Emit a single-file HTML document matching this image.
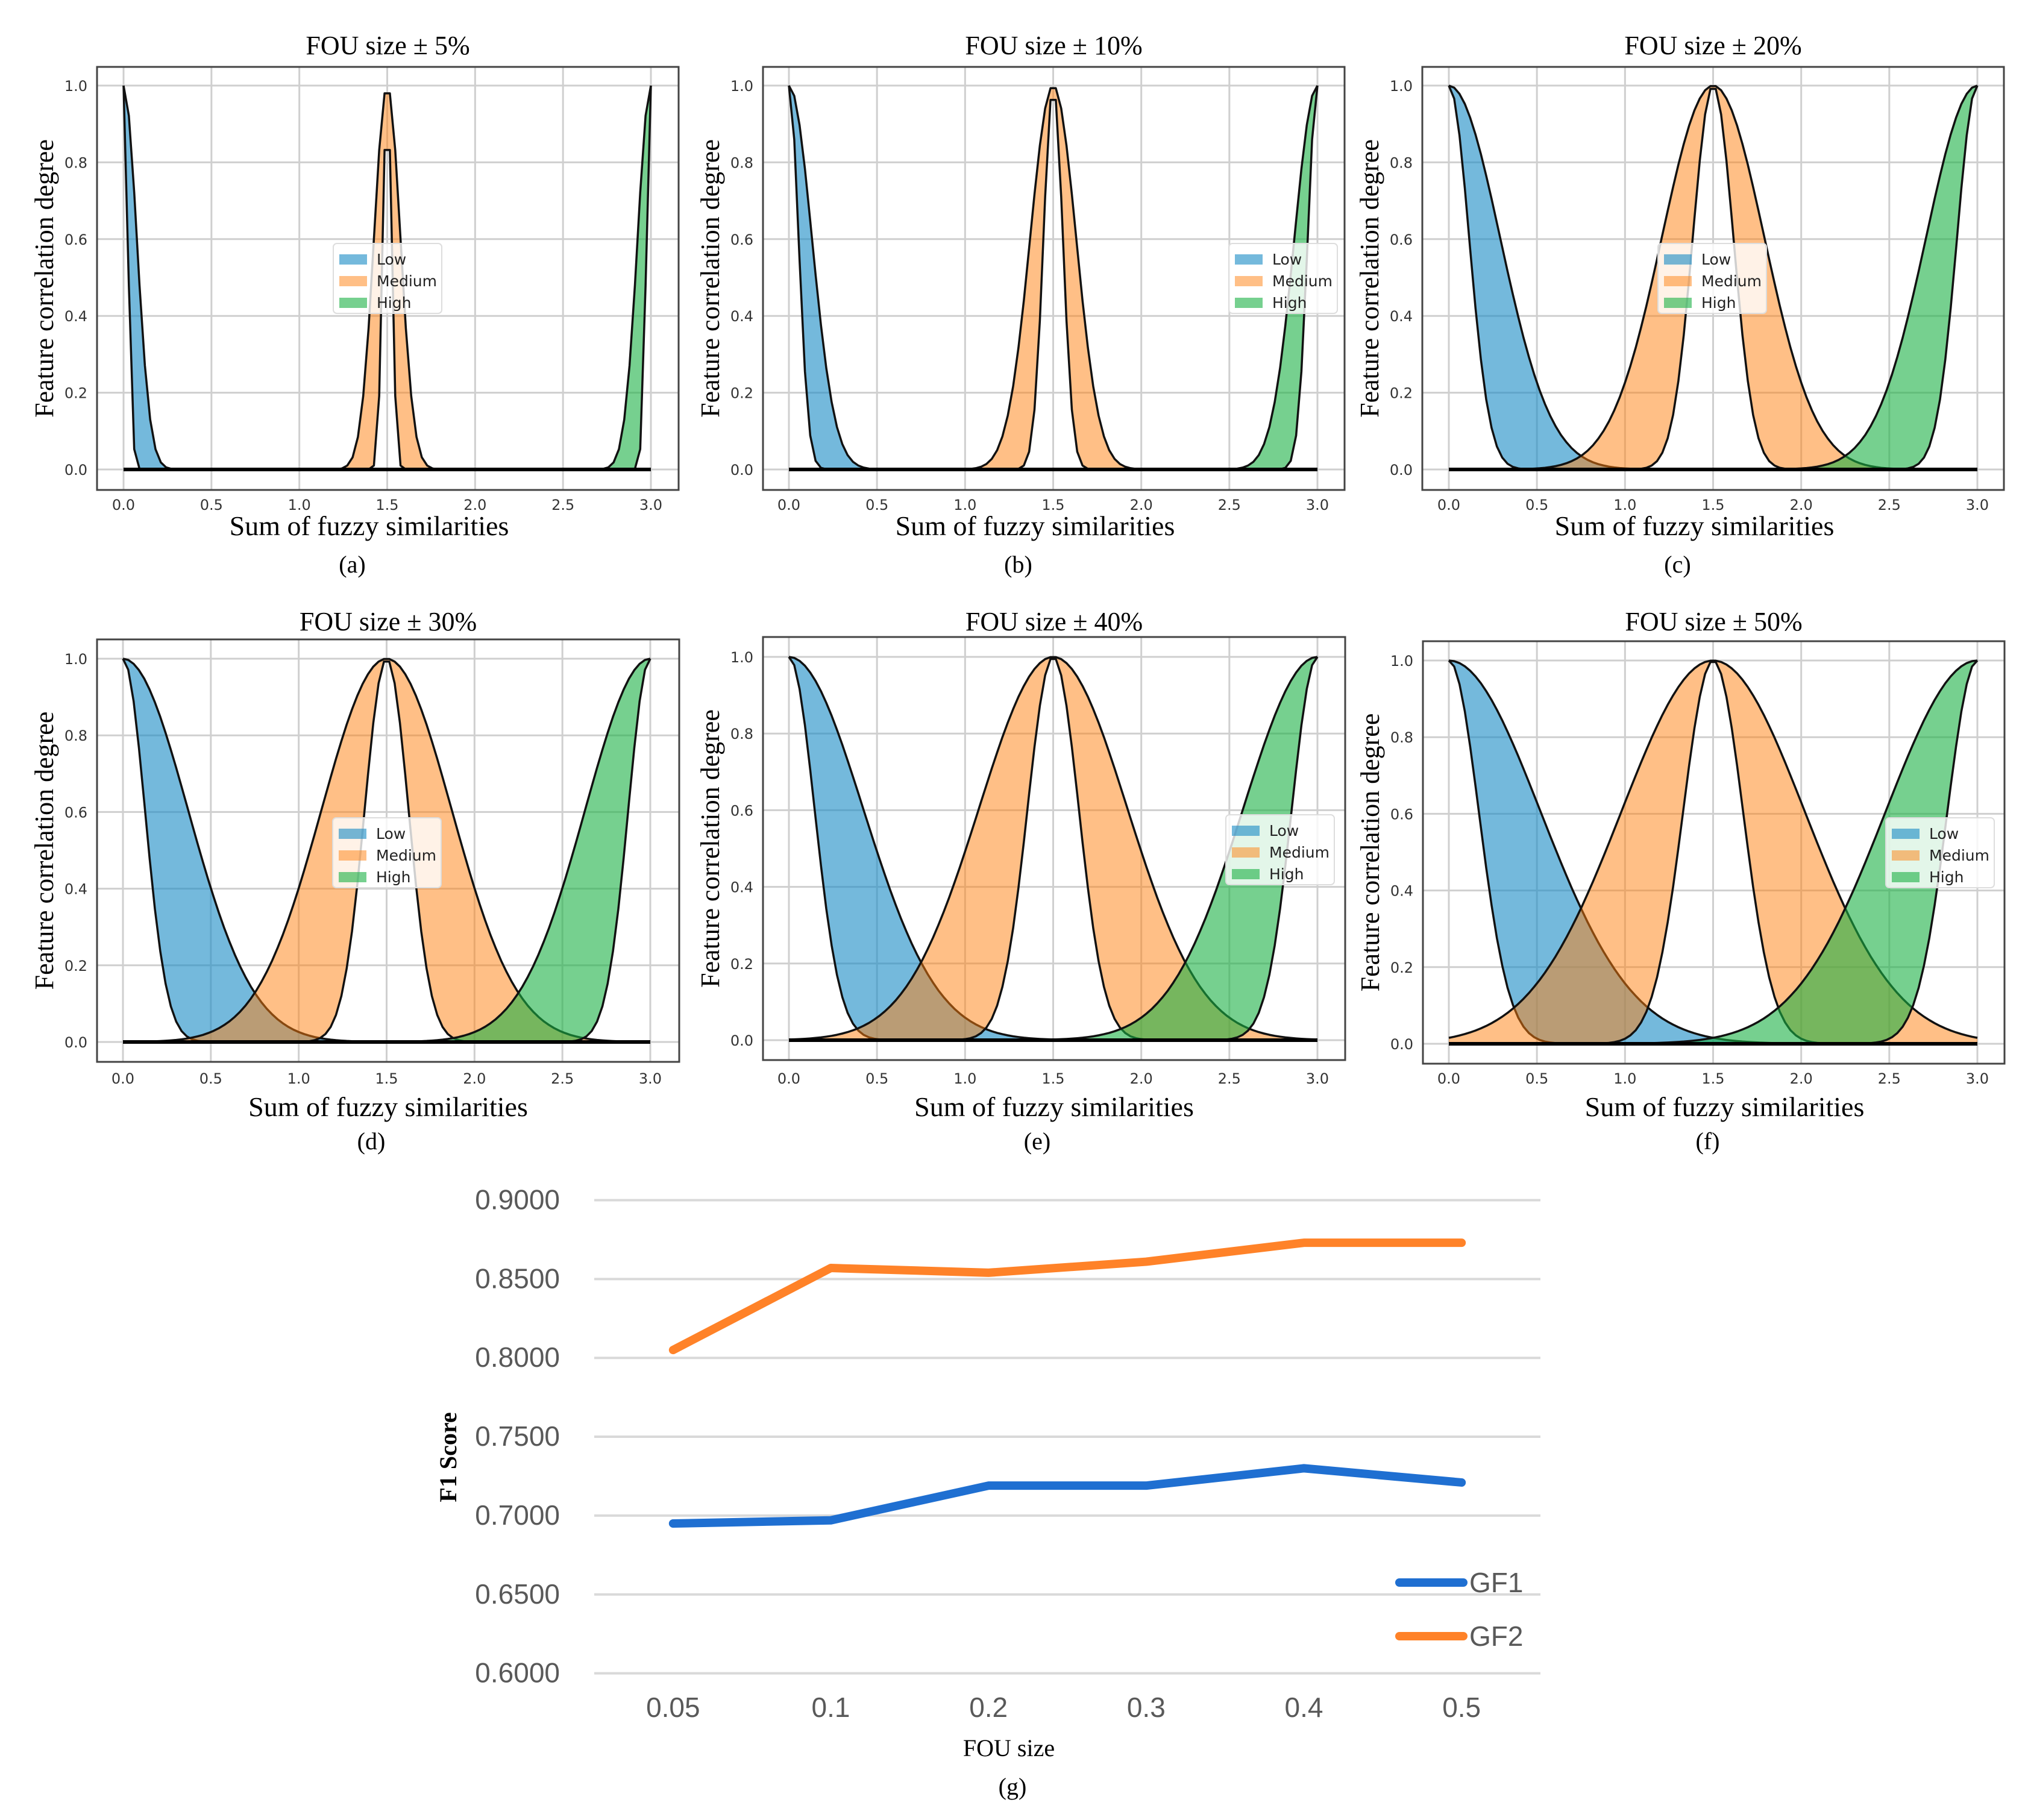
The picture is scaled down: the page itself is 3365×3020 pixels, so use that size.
<!DOCTYPE html>
<html><head><meta charset="utf-8"><style>
html,body{margin:0;padding:0;background:#fff;}
svg{display:block;}
</style></head><body>
<svg id="fig" width="3365" height="3020" viewBox="0 0 3365 3020" xmlns="http://www.w3.org/2000/svg"></svg>
<script>
// ---- panel data (a)-(f) ----
const fouTitles = ['FOU size \u00b1 5%','FOU size \u00b1 10%','FOU size \u00b1 20%','FOU size \u00b1 30%','FOU size \u00b1 40%','FOU size \u00b1 50%'];
const panelLetters = ['(a)','(b)','(c)','(d)','(e)','(f)'];
const sigmaUpper = [0.075,0.13,0.29,0.37,0.42,0.52];
const sigmaLower = [0.025,0.055,0.115,0.125,0.145,0.17];
const setNames = ['Low','Medium','High'];
const setCenters = [0,1.5,3];
const xTicks = [0,0.5,1.0,1.5,2.0,2.5,3.0];
const yTicks = [0,0.2,0.4,0.6,0.8,1.0];
// ---- chart (g) data ----
const fouCats = ['0.05','0.1','0.2','0.3','0.4','0.5'];
const gf1 = [0.6950,0.6970,0.7190,0.7190,0.7300,0.7210];
const gf2 = [0.8050,0.8570,0.8540,0.8610,0.8730,0.8730];
const f1Ticks = [0.60,0.65,0.70,0.75,0.80,0.85,0.90];

const NS='http://www.w3.org/2000/svg';
const svg=document.getElementById('fig');
function mk(tag,attrs,parent,text){const e=document.createElementNS(NS,tag);for(const k in attrs)e.setAttribute(k,attrs[k]);if(text!==undefined)e.textContent=text;(parent||svg).appendChild(e);return e;}

const fillCols=['#178ac5','#ff7f0e','#1bb144'];
const fillOp=[0.6,0.5,0.6];
const boxes=[
 {l:161,r:1126,t:111,b:813,x0:205,x3:1080,y1:142,y0:779,tickY:846,xlY:888,lbY:950,ttlY:90,xlDx:-31,lgX:392,lgY:293},
 {l:1266,r:2231,t:111,b:813,x0:1309,x3:2186,y1:142,y0:779,tickY:846,xlY:888,lbY:950,ttlY:90,xlDx:-31,lgX:773,lgY:293},
 {l:2360,r:3325,t:111,b:813,x0:2404,x3:3281,y1:142,y0:779,tickY:846,xlY:888,lbY:950,ttlY:90,xlDx:-31,lgX:391,lgY:293},
 {l:161,r:1127,t:1061,b:1762,x0:204,x3:1079,y1:1093,y0:1729,tickY:1798,xlY:1852,lbY:1907,ttlY:1046,xlDx:0,lgX:391,lgY:296},
 {l:1266,r:2232,t:1057,b:1759,x0:1309,x3:2186,y1:1090,y0:1726,tickY:1798,xlY:1852,lbY:1907,ttlY:1046,xlDx:0,lgX:768,lgY:295},
 {l:2361,r:3326,t:1064,b:1765,x0:2404,x3:3281,y1:1096,y0:1732,tickY:1798,xlY:1852,lbY:1907,ttlY:1046,xlDx:18,lgX:768,lgY:293}
];
const xs=[];for(let i=0;i<100;i++)xs.push(3*i/99);

boxes.forEach((B,p)=>{
  const g=mk('g',{});
  
  
  const X=v=>B.x0+(B.x3-B.x0)*v/3;
  const Y=v=>B.y0-(B.y0-B.y1)*v;
  xTicks.forEach(v=>{const l=mk('line',{x1:X(v),x2:X(v),y1:B.t,y2:B.b,stroke:'#cfcfcf','stroke-width':3},g);
    });
  yTicks.forEach(v=>{const l=mk('line',{x1:B.l,x2:B.r,y1:Y(v),y2:Y(v),stroke:'#cfcfcf','stroke-width':3},g);
    });
  setCenters.forEach((c,s)=>{
    const up=xs.map(x=>Math.exp(-((x-c)**2)/(2*sigmaUpper[p]**2)));
    const lo=xs.map(x=>Math.exp(-((x-c)**2)/(2*sigmaLower[p]**2)));
    let d='M'+xs.map((x,i)=>X(x).toFixed(1)+','+Y(up[i]).toFixed(1)).join('L');
    for(let i=xs.length-1;i>=0;i--)d+='L'+X(xs[i]).toFixed(1)+','+Y(lo[i]).toFixed(1);
    d+='Z';
    const f=mk('path',{d:d,fill:fillCols[s],'fill-opacity':fillOp[s],stroke:'none'},g);
    
    
    [up,lo].forEach((arr,k)=>{
      const pl=mk('polyline',{points:xs.map((x,i)=>X(x).toFixed(1)+','+Y(arr[i]).toFixed(1)).join(' '),fill:'none',stroke:'#111','stroke-width':3.5,'stroke-linejoin':'round'},g);
      
      
    });
  });
  const bl=mk('line',{x1:X(0),x2:X(3),y1:Y(0),y2:Y(0),stroke:'#000','stroke-width':6},g);
  
  const fr=mk('rect',{x:B.l,y:B.t,width:B.r-B.l,height:B.b-B.t,fill:'none',stroke:'#444','stroke-width':3},g);
  
  xTicks.forEach(v=>{const t=mk('text',{x:X(v),y:B.tickY,'text-anchor':'middle','font-family':'DejaVu Sans, sans-serif','font-size':24,fill:'#333'},g,v.toFixed(1));
    });
  yTicks.forEach(v=>{const t=mk('text',{x:B.l-16,y:Y(v)+9,'text-anchor':'end','font-family':'DejaVu Sans, sans-serif','font-size':24,fill:'#333'},g,v.toFixed(1));
    });
  const cx=(B.l+B.r)/2;
  const tt=mk('text',{x:cx,y:B.ttlY,'text-anchor':'middle','font-family':'Liberation Serif, serif','font-size':44,fill:'#000'},g,fouTitles[p]);
  
  const xl=mk('text',{x:cx+B.xlDx,y:B.xlY,'text-anchor':'middle','font-family':'Liberation Serif, serif','font-size':46,fill:'#000'},g,'Sum of fuzzy similarities');
  
  const lb=mk('text',{x:cx+B.xlDx-28,y:B.lbY,'text-anchor':'middle','font-family':'Liberation Serif, serif','font-size':40,fill:'#000'},g,panelLetters[p]);
  
  const ycy=(B.t+B.b)/2, ycx=B.l-73;
  const yl=mk('text',{x:ycx,y:ycy,'text-anchor':'middle','font-family':'Liberation Serif, serif','font-size':44,fill:'#000',transform:'rotate(-90 '+ycx+' '+ycy+')'},g,'Feature correlation degree');
  
  const lx=B.l+B.lgX, ly=B.t+B.lgY;
  const lg=mk('g',{},g);
  
  mk('rect',{x:lx,y:ly,width:180,height:116,rx:6,fill:'#fff','fill-opacity':0.8,stroke:'#ddd','stroke-width':2},lg);
  setNames.forEach((n,s)=>{
    const ry=ly+18+s*36;
    const pr=mk('rect',{x:lx+10,y:ry,width:46,height:17,fill:fillCols[s],'fill-opacity':fillOp[s]},lg);
    
    const tx=mk('text',{x:lx+72,y:ry+17,'font-family':'DejaVu Sans, sans-serif','font-size':25,fill:'#222'},lg,n);
    
  });
});

// ---- chart (g) ----
(function(){
  const g=mk('g',{});
  
  const L=986,R=2556,Y09=1991.5,Y06=2776.6;
  const Y=v=>Y06-(v-0.6)*(Y06-Y09)/0.3;
  const band=(R-L)/fouCats.length;
  const X=i=>L+band*(i+0.5);
  f1Ticks.forEach(v=>{
    const l=mk('line',{x1:L,x2:R,y1:Y(v),y2:Y(v),stroke:'#d9d9d9','stroke-width':4},g);
    
    const t=mk('text',{x:929,y:Y(v)+15,'text-anchor':'end','font-family':'Liberation Sans Narrow, Liberation Sans, sans-serif','font-size':46,fill:'#595959'},g,v.toFixed(4));
    
  });
  fouCats.forEach((c,i)=>{
    const t=mk('text',{x:X(i),y:2849,'text-anchor':'middle','font-family':'Liberation Sans Narrow, Liberation Sans, sans-serif','font-size':46,fill:'#595959'},g,c);
    
  });
  const l1=mk('polyline',{points:gf1.map((v,i)=>X(i)+','+Y(v)).join(' '),fill:'none',stroke:'#1f6fd1','stroke-width':14,'stroke-linejoin':'round','stroke-linecap':'round'},g);
  
  const l2=mk('polyline',{points:gf2.map((v,i)=>X(i)+','+Y(v)).join(' '),fill:'none',stroke:'#ff8228','stroke-width':14,'stroke-linejoin':'round','stroke-linecap':'round'},g);
  
  const e1=mk('line',{x1:2322,x2:2428,y1:2626,y2:2626,stroke:'#1f6fd1','stroke-width':14,'stroke-linecap':'round'},g);
  
  const t1=mk('text',{x:2438,y:2642,'font-family':'Liberation Sans Narrow, Liberation Sans, sans-serif','font-size':46,fill:'#595959'},g,'GF1');
  
  const e2=mk('line',{x1:2322,x2:2428,y1:2715,y2:2715,stroke:'#ff8228','stroke-width':14,'stroke-linecap':'round'},g);
  
  const t2=mk('text',{x:2438,y:2731,'font-family':'Liberation Sans Narrow, Liberation Sans, sans-serif','font-size':46,fill:'#595959'},g,'GF2');
  
  const xt=mk('text',{x:1674,y:2914,'text-anchor':'middle','font-family':'Liberation Serif, serif','font-size':40,fill:'#000'},g,'FOU size');
  
  const gl=mk('text',{x:1680,y:2978,'text-anchor':'middle','font-family':'Liberation Serif, serif','font-size':40,fill:'#000'},g,'(g)');
  
  const yt=mk('text',{x:743,y:2432,'text-anchor':'middle','font-family':'Liberation Serif, serif','font-size':40,'font-weight':'bold',fill:'#000',transform:'rotate(-90 743 2418)'},g,'F1 Score');
  
})();
</script>
</body></html>
